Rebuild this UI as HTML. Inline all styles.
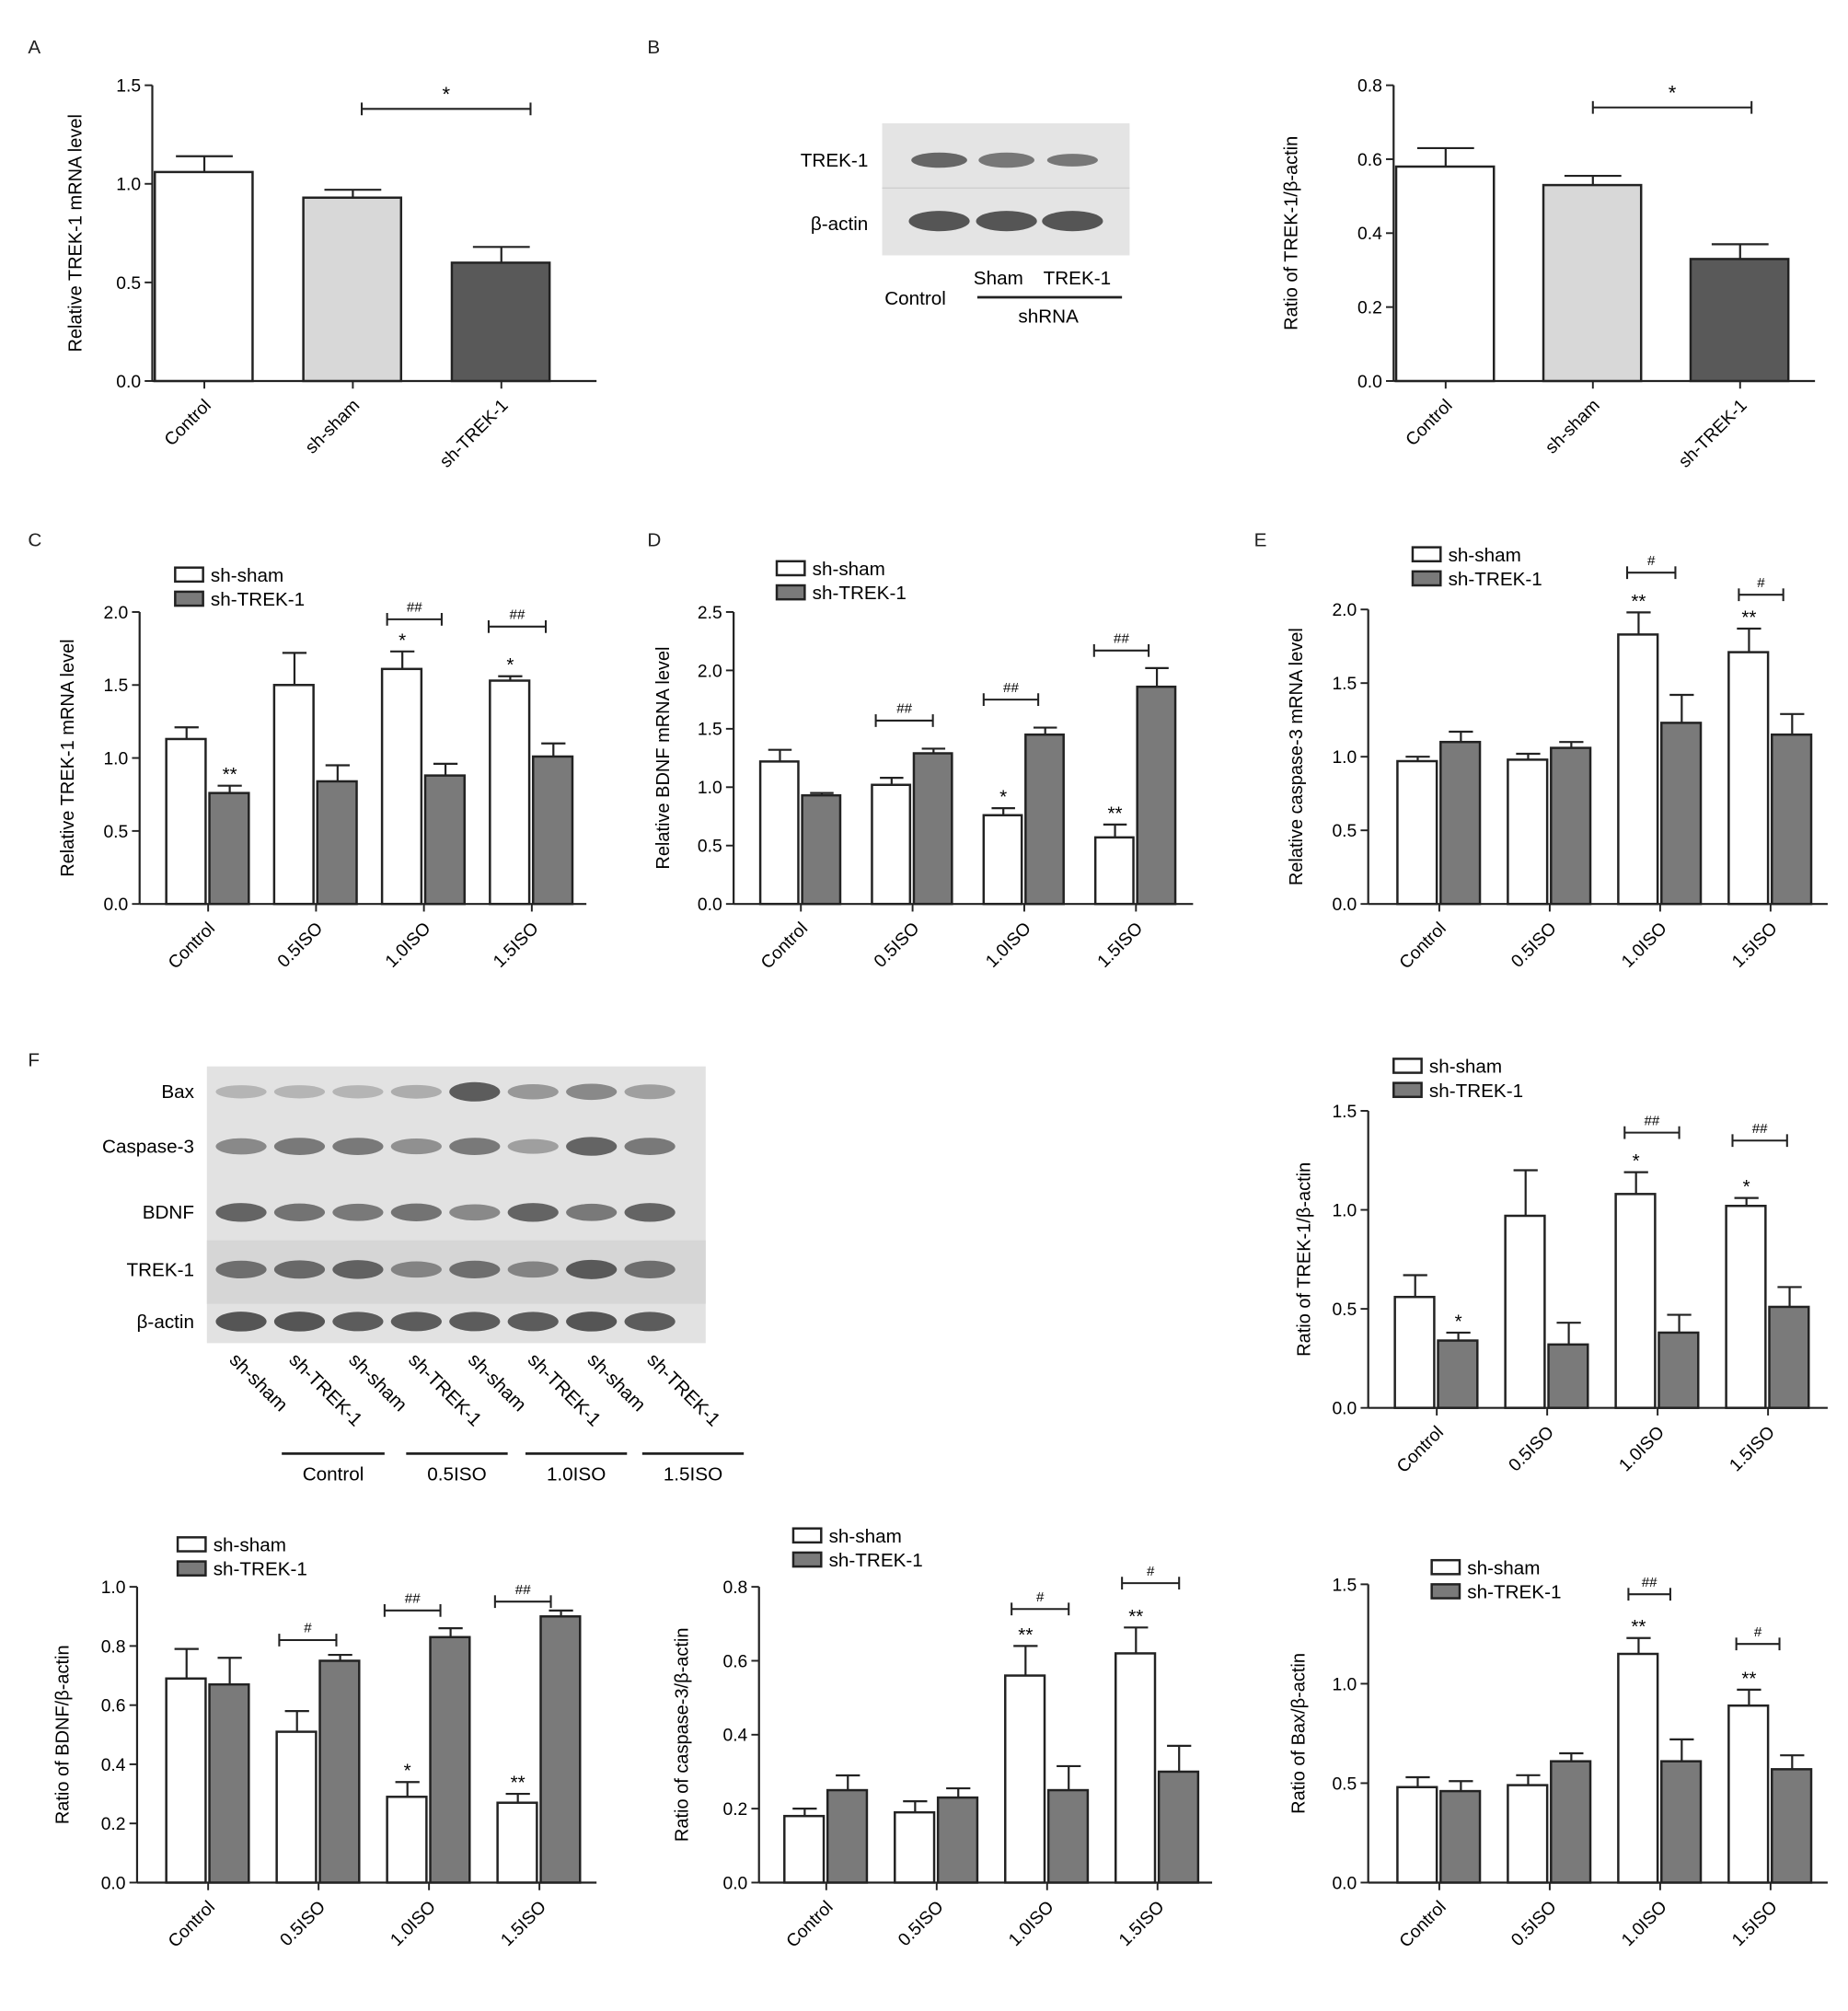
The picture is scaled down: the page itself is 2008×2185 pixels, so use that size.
<!DOCTYPE html>
<html><head><meta charset="utf-8"><style>
html,body{margin:0;padding:0;background:#fff;}
svg{display:block;font-family:"Liberation Sans",Arial,sans-serif;}
</style></head><body>
<svg id="fig" width="2008" height="2185" viewBox="0 0 1456 1584">
<g font-size="15" fill="#222">
<text x="22" y="42">A</text>
<text x="510" y="42">B</text>
<text x="22" y="430">C</text>
<text x="510" y="430">D</text>
<text x="988" y="430">E</text>
<text x="22" y="840">F</text>
</g>
<g>
<rect x="695" y="97" width="195" height="104" fill="#e4e4e4"/>
<line x1="695" y1="148" x2="890" y2="148" stroke="#cfcfcf"/>
<ellipse cx="740" cy="126" rx="22" ry="6" fill="#666"/>
<ellipse cx="793" cy="126" rx="22" ry="6" fill="#777"/>
<ellipse cx="845" cy="126" rx="20" ry="5" fill="#777"/>
<ellipse cx="740" cy="174" rx="24" ry="8" fill="#555"/>
<ellipse cx="793" cy="174" rx="24" ry="8" fill="#555"/>
<ellipse cx="845" cy="174" rx="24" ry="8" fill="#555"/>
<text x="684" y="131" font-size="15" text-anchor="end">TREK-1</text>
<text x="684" y="181" font-size="15" text-anchor="end">β-actin</text>
<text x="697" y="240" font-size="15">Control</text>
<text x="767" y="224" font-size="15">Sham</text>
<text x="822" y="224" font-size="15">TREK-1</text>
<line x1="770" y1="234" x2="884" y2="234" stroke="#222" stroke-width="2"/>
<text x="826" y="254" font-size="15" text-anchor="middle">shRNA</text>
</g>
<g id="blotF"></g>
<g id="charts"></g>
</svg>
<script>
// ---- data arrays ----
const aCats=["Control","sh-sham","sh-TREK-1"], aVals=[1.06,0.93,0.60], aErrs=[0.08,0.04,0.08], aTicks=[0,0.5,1.0,1.5];
const bCats=["Control","sh-sham","sh-TREK-1"], bVals=[0.58,0.53,0.33], bErrs=[0.05,0.025,0.04], bTicks=[0,0.2,0.4,0.6,0.8];
const isoCats=["Control","0.5ISO","1.0ISO","1.5ISO"];
const cSham=[1.13,1.50,1.61,1.53], cShamErr=[0.08,0.22,0.12,0.03], cTrek=[0.76,0.84,0.88,1.01], cTrekErr=[0.05,0.11,0.08,0.09], cTicks=[0,0.5,1.0,1.5,2.0];
const dSham=[1.22,1.02,0.76,0.57], dShamErr=[0.1,0.06,0.06,0.11], dTrek=[0.93,1.29,1.45,1.86], dTrekErr=[0.02,0.04,0.06,0.16], dTicks=[0,0.5,1.0,1.5,2.0,2.5];
const eSham=[0.97,0.98,1.83,1.71], eShamErr=[0.03,0.04,0.15,0.16], eTrek=[1.10,1.06,1.23,1.15], eTrekErr=[0.07,0.04,0.19,0.14], eTicks=[0,0.5,1.0,1.5,2.0];
const fSham=[0.56,0.97,1.08,1.02], fShamErr=[0.11,0.23,0.11,0.04], fTrek=[0.34,0.32,0.38,0.51], fTrekErr=[0.04,0.11,0.09,0.10], fTicks=[0,0.5,1.0,1.5];
const gSham=[0.69,0.51,0.29,0.27], gShamErr=[0.10,0.07,0.05,0.03], gTrek=[0.67,0.75,0.83,0.90], gTrekErr=[0.09,0.02,0.03,0.02], gTicks=[0,0.2,0.4,0.6,0.8,1.0];
const hSham=[0.18,0.19,0.56,0.62], hShamErr=[0.02,0.03,0.08,0.07], hTrek=[0.25,0.23,0.25,0.30], hTrekErr=[0.04,0.025,0.065,0.07], hTicks=[0,0.2,0.4,0.6,0.8];
const iSham=[0.48,0.49,1.15,0.89], iShamErr=[0.05,0.05,0.08,0.08], iTrek=[0.46,0.61,0.61,0.57], iTrekErr=[0.05,0.04,0.11,0.07], iTicks=[0,0.5,1.0,1.5];

const NS="http://www.w3.org/2000/svg";
const root=document.getElementById('charts');
function el(tag,attrs,parent,txt){const e=document.createElementNS(NS,tag);for(const k in attrs)e.setAttribute(k,attrs[k]);if(txt!==undefined)e.textContent=txt;(parent||root).appendChild(e);return e;}
const WHITE="#ffffff",LIGHT="#d8d8d8",DARK="#595959",GRAY="#7a7a7a";

function chart(cfg){
  const g=el('g',{});
  
  
  const max=cfg.ticks[cfg.ticks.length-1];
  const y=v=>cfg.yBot-(v/max)*(cfg.yBot-cfg.yTop);
  el('line',{x1:cfg.ax,y1:cfg.yTop,x2:cfg.ax,y2:cfg.yBot,stroke:'#222','stroke-width':1.6},g);
  el('line',{x1:cfg.ax,y1:cfg.yBot,x2:cfg.xEnd,y2:cfg.yBot,stroke:'#222','stroke-width':1.6},g);
  cfg.ticks.forEach(t=>{
    el('line',{x1:cfg.ax-6,y1:y(t),x2:cfg.ax,y2:y(t),stroke:'#222','stroke-width':1.4},g);
    const tl=el('text',{x:cfg.ax-9,y:y(t)+5,'font-size':14,'text-anchor':'end'},g,t.toFixed(1));
    
    
  });
  const yt=el('text',{x:0,y:0,'font-size':14.5,'text-anchor':'middle',transform:`translate(${cfg.titleX},${(cfg.yTop+cfg.yBot)/2}) rotate(-90)`},g,cfg.title);
  
  
  const ns=cfg.series.length;
  cfg.cats.forEach((c,i)=>{
    const gx=cfg.start+i*cfg.step;
    const cx=gx+cfg.bw*ns/2;
    el('line',{x1:cx,y1:cfg.yBot,x2:cx,y2:cfg.yBot+6,stroke:'#222','stroke-width':1.4},g);
    const lab=el('text',{x:0,y:0,'font-size':14,'text-anchor':'end',transform:`translate(${cx+6},${cfg.yBot+20}) rotate(-45)`},g,c);
    
    
    cfg.series.forEach((s,k)=>{
      const v=s.vals[i],e=s.errs[i];
      const x=gx+k*cfg.bw, bcx=x+cfg.bw/2;
      const fill=s.fills?s.fills[i]:s.fill;
      el('line',{x1:bcx,y1:y(v),x2:bcx,y2:y(v+e),stroke:'#222','stroke-width':1.6},g);
      el('line',{x1:bcx-cfg.bw*0.28,y1:y(v+e),x2:bcx+cfg.bw*0.28,y2:y(v+e),stroke:'#222','stroke-width':1.6},g);
      const r=el('rect',{x:x+1,y:y(v),width:cfg.bw-3,height:cfg.yBot-y(v),fill:fill,stroke:'#222','stroke-width':1.8},g);
      
      
      const m=(cfg.marks||[]).find(q=>q[0]===i&&q[1]===k);
      if(m){const st=el('text',{x:bcx,y:y(v+e)-4,'font-size':15,'text-anchor':'middle'},g,m[2]);
        
        }
    });
  });
  (cfg.brackets||[]).forEach(b=>{
    const x1=b.x1,x2=b.x2,yy=y(b.lvl);
    el('line',{x1:x1,y1:yy,x2:x2,y2:yy,stroke:'#222','stroke-width':1.5},g);
    el('line',{x1:x1,y1:yy-5,x2:x1,y2:yy+5,stroke:'#222','stroke-width':1.5},g);
    el('line',{x1:x2,y1:yy-5,x2:x2,y2:yy+5,stroke:'#222','stroke-width':1.5},g);
    const bt=el('text',{x:(x1+x2)/2,y:yy-6,'font-size':b.t==='*'?16:11,'text-anchor':'middle'},g,b.t);
    
    
  });
  if(cfg.legend){
    const [lx,ly]=cfg.legend;
    cfg.series.forEach((s,k)=>{
      const lr=el('rect',{x:lx,y:ly+k*19-6,width:22,height:11,fill:s.fill,stroke:'#222','stroke-width':1.8},g);
      
      
      const lt=el('text',{x:lx+28,y:ly+k*19+5,'font-size':15},g,s.label);
      
      
    });
  }
}
const two=(a,ae,b,be)=>[{label:'sh-sham',vals:a,errs:ae,fill:WHITE},{label:'sh-TREK-1',vals:b,errs:be,fill:GRAY}];

chart({name:'chart-a',ax:120,yTop:67,yBot:300,xEnd:470,ticks:aTicks,cats:aCats,start:121,step:117,bw:80,title:'Relative TREK-1 mRNA level',titleX:64,
 series:[{label:'value',vals:aVals,errs:aErrs,fills:[WHITE,LIGHT,DARK]}],brackets:[{x1:285,x2:418,lvl:1.38,t:'*'}]});
chart({name:'chart-b',ax:1098,yTop:67,yBot:300,xEnd:1430,ticks:bTicks,cats:bCats,start:1099,step:116,bw:80,title:'Ratio of TREK-1/β-actin',titleX:1022,
 series:[{label:'value',vals:bVals,errs:bErrs,fills:[WHITE,LIGHT,DARK]}],brackets:[{x1:1255,x2:1380,lvl:0.74,t:'*'}]});
chart({name:'chart-c',ax:110,yTop:482,yBot:712,xEnd:462,ticks:cTicks,cats:isoCats,start:130,step:85,bw:34,title:'Relative TREK-1 mRNA level',titleX:58,
 series:two(cSham,cShamErr,cTrek,cTrekErr),legend:[138,453],marks:[[0,1,'**'],[2,0,'*'],[3,0,'*']],
 brackets:[{x1:305,x2:348,lvl:1.95,t:'##'},{x1:385,x2:430,lvl:1.9,t:'##'}]});
chart({name:'chart-d',ax:578,yTop:482,yBot:712,xEnd:940,ticks:dTicks,cats:isoCats,start:598,step:88,bw:33,title:'Relative BDNF mRNA level',titleX:527,
 series:two(dSham,dShamErr,dTrek,dTrekErr),legend:[612,448],marks:[[2,0,'*'],[3,0,'**']],
 brackets:[{x1:690,x2:735,lvl:1.57,t:'##'},{x1:775,x2:818,lvl:1.75,t:'##'},{x1:862,x2:905,lvl:2.17,t:'##'}]});
chart({name:'chart-e',ax:1078,yTop:480,yBot:712,xEnd:1440,ticks:eTicks,cats:isoCats,start:1100,step:87,bw:34,title:'Relative caspase-3 mRNA level',titleX:1026,
 series:two(eSham,eShamErr,eTrek,eTrekErr),legend:[1113,437],marks:[[2,0,'**'],[3,0,'**']],
 brackets:[{x1:1282,x2:1320,lvl:2.25,t:'#'},{x1:1370,x2:1405,lvl:2.1,t:'#'}]});
chart({name:'chart-f-trek1',ax:1078,yTop:875,yBot:1109,xEnd:1440,ticks:fTicks,cats:isoCats,start:1098,step:87,bw:34,title:'Ratio of TREK-1/β-actin',titleX:1032,
 series:two(fSham,fShamErr,fTrek,fTrekErr),legend:[1098,840],marks:[[0,1,'*'],[2,0,'*'],[3,0,'*']],
 brackets:[{x1:1280,x2:1323,lvl:1.39,t:'##'},{x1:1365,x2:1408,lvl:1.35,t:'##'}]});
chart({name:'chart-f-bdnf',ax:108,yTop:1250,yBot:1483,xEnd:470,ticks:gTicks,cats:isoCats,start:130,step:87,bw:34,title:'Ratio of BDNF/β-actin',titleX:54,
 series:two(gSham,gShamErr,gTrek,gTrekErr),legend:[140,1217],marks:[[2,0,'*'],[3,0,'**']],
 brackets:[{x1:220,x2:265,lvl:0.82,t:'#'},{x1:303,x2:347,lvl:0.92,t:'##'},{x1:390,x2:434,lvl:0.95,t:'##'}]});
chart({name:'chart-f-caspase3',ax:598,yTop:1250,yBot:1483,xEnd:955,ticks:hTicks,cats:isoCats,start:617,step:87,bw:34,title:'Ratio of caspase-3/β-actin',titleX:542,
 series:two(hSham,hShamErr,hTrek,hTrekErr),legend:[625,1210],marks:[[2,0,'**'],[3,0,'**']],
 brackets:[{x1:797,x2:842,lvl:0.74,t:'#'},{x1:884,x2:929,lvl:0.81,t:'#'}]});
chart({name:'chart-f-bax',ax:1078,yTop:1248,yBot:1483,xEnd:1440,ticks:iTicks,cats:isoCats,start:1100,step:87,bw:34,title:'Ratio of Bax/β-actin',titleX:1028,
 series:two(iSham,iShamErr,iTrek,iTrekErr),legend:[1128,1235],marks:[[2,0,'**'],[3,0,'**']],
 brackets:[{x1:1283,x2:1316,lvl:1.45,t:'##'},{x1:1368,x2:1402,lvl:1.2,t:'#'}]});

// blot F
const bf=document.getElementById('blotF');
el('rect',{x:163,y:840,width:393,height:218,fill:'#e2e2e2'},bf);
el('rect',{x:163,y:977,width:393,height:50,fill:'#d6d6d6'},bf);
const rows=["Bax","Caspase-3","BDNF","TREK-1","β-actin"], rowY=[860,903,955,1000,1041];
const rowInt=[[.3,.3,.3,.35,.9,.5,.6,.45],[.6,.7,.7,.55,.7,.45,.85,.7],[.85,.75,.7,.75,.6,.85,.7,.85],[.75,.8,.85,.6,.75,.6,.9,.75],[.95,.95,.9,.9,.9,.9,.95,.9]];
rows.forEach((r,ri)=>{
  const t=el('text',{x:153,y:rowY[ri]+5,'font-size':15,'text-anchor':'end'},bf,r);
  
  
  for(let l=0;l<8;l++){
    const a=rowInt[ri][l];
    el('ellipse',{cx:190+l*46,cy:rowY[ri],rx:20,ry:4+a*4,fill:'#333','fill-opacity':a*0.85},bf);
  }
});
const lanes=["sh-sham","sh-TREK-1","sh-sham","sh-TREK-1","sh-sham","sh-TREK-1","sh-sham","sh-TREK-1"];
lanes.forEach((ln,l)=>{
  const t=el('text',{x:0,y:0,'font-size':15,transform:`translate(${180+l*47},${1072}) rotate(45)`},bf,ln);
  
  
});
const grp=[["Control",222,303],["0.5ISO",320,400],["1.0ISO",414,494],["1.5ISO",506,586]];
grp.forEach(gp=>{
  el('line',{x1:gp[1],y1:1145,x2:gp[2],y2:1145,stroke:'#222','stroke-width':2},bf);
  const t=el('text',{x:(gp[1]+gp[2])/2,y:1166,'font-size':15,'text-anchor':'middle'},bf,gp[0]);
  
  
});
</script>
</body></html>
